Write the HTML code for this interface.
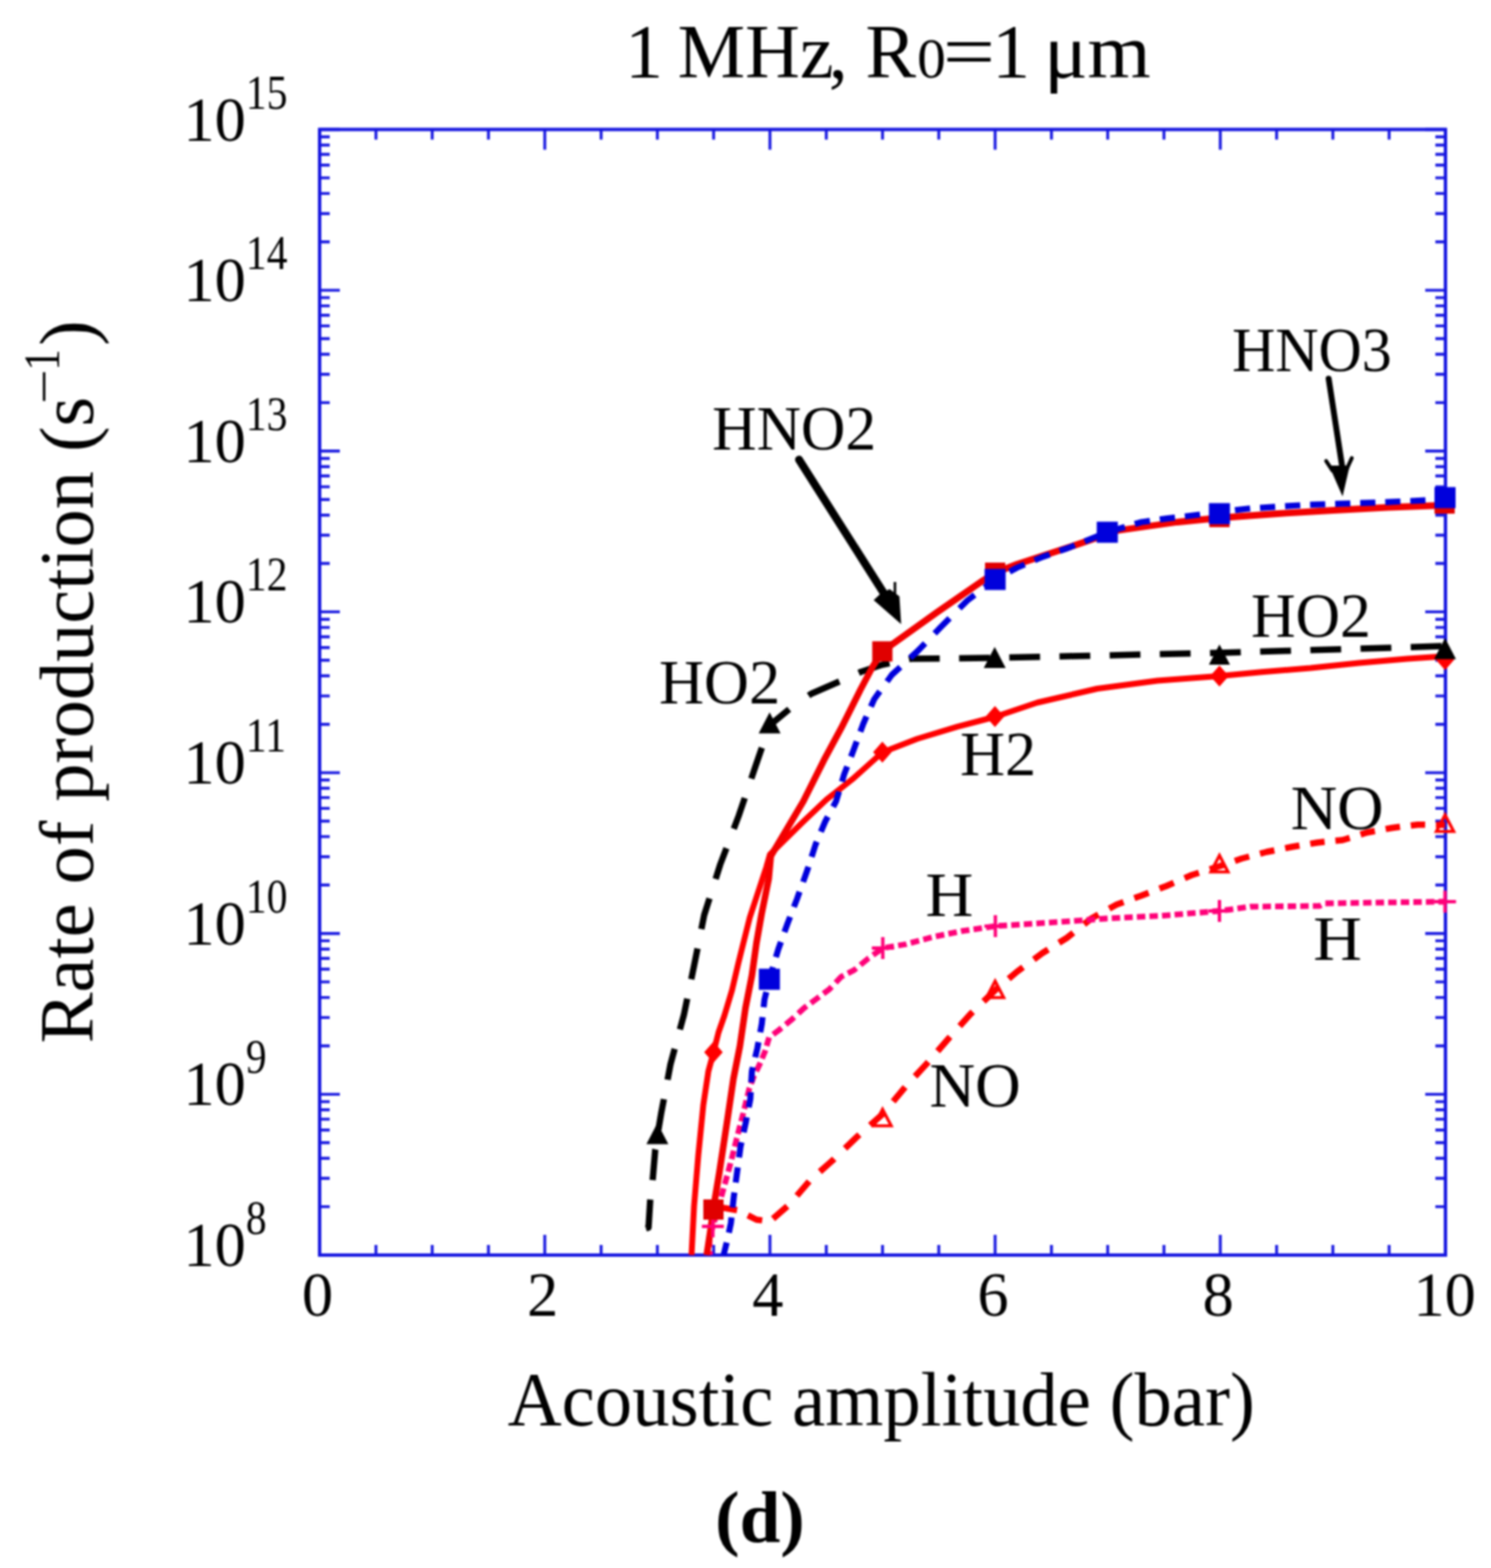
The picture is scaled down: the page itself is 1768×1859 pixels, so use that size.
<!DOCTYPE html>
<html><head><meta charset="utf-8"><title>Rate of production vs acoustic amplitude</title>
<style>html,body{margin:0;padding:0;background:#fff;}body{width:1768px;height:1859px;overflow:hidden;}svg{display:block;}#w{filter:blur(0.8px);}</style>
</head><body>
<div id="w">
<svg width="1768" height="1859" viewBox="0 0 1768 1859">
<rect x="0" y="0" width="1768" height="1859" fill="#ffffff"/>
<path d="M379.0 1488.0V1464.0M379.0 153.5V177.5M445.8 1488.0V1476.0M445.8 153.5V165.5M512.5 1488.0V1476.0M512.5 153.5V165.5M579.2 1488.0V1476.0M579.2 153.5V165.5M646.0 1488.0V1464.0M646.0 153.5V177.5M712.8 1488.0V1476.0M712.8 153.5V165.5M779.5 1488.0V1476.0M779.5 153.5V165.5M846.2 1488.0V1476.0M846.2 153.5V165.5M913.0 1488.0V1464.0M913.0 153.5V177.5M979.8 1488.0V1476.0M979.8 153.5V165.5M1046.5 1488.0V1476.0M1046.5 153.5V165.5M1113.2 1488.0V1476.0M1113.2 153.5V165.5M1180.0 1488.0V1464.0M1180.0 153.5V177.5M1246.8 1488.0V1476.0M1246.8 153.5V165.5M1313.5 1488.0V1476.0M1313.5 153.5V165.5M1380.2 1488.0V1476.0M1380.2 153.5V165.5M1447.0 1488.0V1464.0M1447.0 153.5V177.5M1513.8 1488.0V1476.0M1513.8 153.5V165.5M1580.5 1488.0V1476.0M1580.5 153.5V165.5M1647.2 1488.0V1476.0M1647.2 153.5V165.5M1714.0 1488.0V1464.0M1714.0 153.5V177.5M379.0 1488.0H403.0M1714.0 1488.0H1690.0M379.0 1430.6H391.0M1714.0 1430.6H1702.0M379.0 1397.0H391.0M1714.0 1397.0H1702.0M379.0 1373.2H391.0M1714.0 1373.2H1702.0M379.0 1354.7H391.0M1714.0 1354.7H1702.0M379.0 1339.7H391.0M1714.0 1339.7H1702.0M379.0 1326.9H391.0M1714.0 1326.9H1702.0M379.0 1315.8H391.0M1714.0 1315.8H1702.0M379.0 1306.1H391.0M1714.0 1306.1H1702.0M379.0 1297.4H403.0M1714.0 1297.4H1690.0M379.0 1240.0H391.0M1714.0 1240.0H1702.0M379.0 1206.4H391.0M1714.0 1206.4H1702.0M379.0 1182.6H391.0M1714.0 1182.6H1702.0M379.0 1164.1H391.0M1714.0 1164.1H1702.0M379.0 1149.0H391.0M1714.0 1149.0H1702.0M379.0 1136.2H391.0M1714.0 1136.2H1702.0M379.0 1125.2H391.0M1714.0 1125.2H1702.0M379.0 1115.4H391.0M1714.0 1115.4H1702.0M379.0 1106.7H403.0M1714.0 1106.7H1690.0M379.0 1049.3H391.0M1714.0 1049.3H1702.0M379.0 1015.8H391.0M1714.0 1015.8H1702.0M379.0 991.9H391.0M1714.0 991.9H1702.0M379.0 973.5H391.0M1714.0 973.5H1702.0M379.0 958.4H391.0M1714.0 958.4H1702.0M379.0 945.6H391.0M1714.0 945.6H1702.0M379.0 934.5H391.0M1714.0 934.5H1702.0M379.0 924.8H391.0M1714.0 924.8H1702.0M379.0 916.1H403.0M1714.0 916.1H1690.0M379.0 858.7H391.0M1714.0 858.7H1702.0M379.0 825.1H391.0M1714.0 825.1H1702.0M379.0 801.3H391.0M1714.0 801.3H1702.0M379.0 782.8H391.0M1714.0 782.8H1702.0M379.0 767.7H391.0M1714.0 767.7H1702.0M379.0 755.0H391.0M1714.0 755.0H1702.0M379.0 743.9H391.0M1714.0 743.9H1702.0M379.0 734.2H391.0M1714.0 734.2H1702.0M379.0 725.4H403.0M1714.0 725.4H1690.0M379.0 668.0H391.0M1714.0 668.0H1702.0M379.0 634.5H391.0M1714.0 634.5H1702.0M379.0 610.7H391.0M1714.0 610.7H1702.0M379.0 592.2H391.0M1714.0 592.2H1702.0M379.0 577.1H391.0M1714.0 577.1H1702.0M379.0 564.3H391.0M1714.0 564.3H1702.0M379.0 553.3H391.0M1714.0 553.3H1702.0M379.0 543.5H391.0M1714.0 543.5H1702.0M379.0 534.8H403.0M1714.0 534.8H1690.0M379.0 477.4H391.0M1714.0 477.4H1702.0M379.0 443.8H391.0M1714.0 443.8H1702.0M379.0 420.0H391.0M1714.0 420.0H1702.0M379.0 401.5H391.0M1714.0 401.5H1702.0M379.0 386.4H391.0M1714.0 386.4H1702.0M379.0 373.7H391.0M1714.0 373.7H1702.0M379.0 362.6H391.0M1714.0 362.6H1702.0M379.0 352.9H391.0M1714.0 352.9H1702.0M379.0 344.1H403.0M1714.0 344.1H1690.0M379.0 286.8H391.0M1714.0 286.8H1702.0M379.0 253.2H391.0M1714.0 253.2H1702.0M379.0 229.4H391.0M1714.0 229.4H1702.0M379.0 210.9H391.0M1714.0 210.9H1702.0M379.0 195.8H391.0M1714.0 195.8H1702.0M379.0 183.0H391.0M1714.0 183.0H1702.0M379.0 172.0H391.0M1714.0 172.0H1702.0M379.0 162.2H391.0M1714.0 162.2H1702.0M379.0 153.5H403.0M1714.0 153.5H1690.0" stroke="#1616e0" stroke-width="3.4" fill="none"/>
<rect x="379.0" y="153.5" width="1335.0" height="1334.5" fill="none" stroke="#1616e0" stroke-width="4"/>
<g fill="none" stroke-linejoin="round">
<path d="M857.0 1431.9 L874.0 1434.8M886.8 1440.9 L897.0 1446.0 L903.8 1446.9M916.6 1444.9 L933.6 1430.2M944.9 1417.6 L959.5 1400.6M972.2 1389.1 L987.0 1376.0 L989.2 1373.8M1002.0 1361.5 L1016.0 1348.0 L1019.0 1345.3M1031.8 1334.0 L1046.5 1321.0 L1048.4 1318.7M1059.1 1305.9 L1073.3 1288.9M1085.0 1276.1 L1099.0 1261.0 L1100.7 1259.1M1111.8 1246.3 L1125.0 1231.0 L1126.6 1229.3M1138.0 1216.5 L1151.0 1202.0 L1153.5 1199.6M1166.3 1187.2 L1180.0 1174.0 L1183.3 1171.2M1196.1 1160.4 L1206.0 1152.0 L1213.1 1146.8M1225.9 1137.4 L1236.0 1130.0 L1242.9 1125.7M1255.7 1117.8 L1265.0 1112.0 L1272.7 1105.9M1285.5 1095.7 L1294.0 1089.0 L1302.5 1084.3M1315.3 1077.3 L1324.0 1072.5 L1332.3 1069.5M1345.1 1064.8 L1353.0 1062.0 L1362.1 1058.5M1374.9 1053.6 L1383.0 1050.5 L1391.9 1046.6M1404.7 1041.1 L1413.0 1037.5 L1421.7 1034.7M1434.5 1030.6 L1446.0 1027.0 L1451.5 1025.1M1464.3 1020.7 L1472.0 1018.0 L1481.3 1015.5M1494.1 1012.1 L1502.0 1010.0 L1511.1 1008.2M1523.9 1005.6 L1532.0 1004.0 L1540.9 1002.5M1553.7 1000.4 L1562.0 999.0 L1570.7 998.1M1583.5 996.8 L1592.0 996.0 L1600.5 993.4M1613.3 989.4 L1621.0 987.0 L1630.3 985.3M1643.1 982.9 L1651.0 981.5 L1660.1 980.3M1672.9 978.7 L1681.0 977.7 L1689.9 977.8M1702.7 977.9 L1713.5 978.0" stroke="#ff0000" stroke-width="7.5" fill="none"/>
<path d="M842.0 1488.0 L841.8 1483.4M841.5 1478.5 L841.1 1468.5M842.1 1463.6 L845.3 1454.0 L845.4 1453.6M846.8 1448.7 L849.7 1438.7M851.1 1433.8 L853.9 1423.8M855.3 1418.9 L858.1 1408.9M859.4 1404.0 L862.2 1394.0M863.5 1389.1 L866.0 1380.0 L866.2 1379.1M867.5 1374.2 L870.0 1364.2M871.2 1359.3 L873.6 1350.0 L873.8 1349.3M875.0 1344.4 L877.6 1334.4M878.9 1329.5 L881.3 1320.0 L881.4 1319.5M882.6 1314.6 L885.1 1304.6M886.3 1299.7 L888.4 1291.0 L888.9 1289.7M890.6 1284.8 L894.2 1275.0 L894.3 1274.8M896.8 1269.9 L900.7 1262.0 L901.6 1259.9M903.6 1255.0 L907.0 1247.0 L907.6 1245.0M909.0 1240.1 L912.0 1230.1M916.8 1226.4 L924.0 1221.0 L926.8 1218.7M931.7 1214.6 L938.0 1209.4 L941.7 1206.0M946.6 1201.5 L953.6 1195.0 L956.6 1192.8M961.5 1189.2 L969.0 1183.6 L971.5 1181.7M976.4 1178.1 L983.3 1173.0 L986.2 1169.9M990.9 1165.0 L997.5 1158.0 L1000.5 1156.5M1005.4 1153.9 L1013.0 1150.0 L1015.4 1148.0M1020.3 1144.0 L1030.0 1136.0 L1030.3 1135.8M1035.2 1132.3 L1045.2 1125.3M1050.1 1123.5 L1060.1 1121.8M1065.0 1121.0 L1074.0 1119.5 L1075.0 1119.2M1079.9 1117.9 L1089.9 1115.3M1094.8 1114.0 L1104.8 1111.3M1109.7 1110.2 L1119.7 1108.2M1124.6 1107.2 L1134.6 1105.2M1139.5 1104.2 L1142.0 1103.7 L1149.5 1102.6M1154.4 1101.8 L1164.4 1100.3M1169.3 1099.6 L1179.3 1098.1M1184.2 1097.7 L1194.2 1097.1M1199.1 1096.8 L1209.1 1096.1M1214.0 1095.8 L1224.0 1095.1M1228.9 1094.8 L1238.9 1094.2M1243.8 1093.8 L1253.8 1093.2M1258.7 1092.9 L1266.0 1092.4 L1268.7 1092.2M1273.6 1091.8 L1283.6 1091.1M1288.5 1090.7 L1298.5 1090.0M1303.4 1089.6 L1311.5 1089.0 L1313.4 1088.9M1318.3 1088.7 L1328.3 1088.2M1333.2 1087.9 L1343.2 1087.4M1348.1 1087.2 L1358.1 1086.7M1363.0 1086.4 L1373.0 1085.9M1377.9 1085.7 L1379.0 1085.6 L1387.9 1084.9M1392.8 1084.4 L1402.8 1083.6M1407.7 1083.2 L1417.7 1082.4M1422.6 1082.0 L1432.6 1081.1M1437.5 1080.7 L1446.0 1080.0 L1447.5 1079.8M1452.4 1079.1 L1462.4 1077.8M1467.3 1077.1 L1477.3 1075.7M1482.2 1075.1 L1482.7 1075.0 L1492.2 1074.9M1497.1 1074.8 L1507.1 1074.7M1512.0 1074.6 L1522.0 1074.5M1526.9 1074.5 L1536.9 1074.3M1541.8 1074.3 L1551.8 1074.2M1556.7 1074.1 L1565.0 1074.0 L1566.7 1073.1M1571.6 1071.0 L1581.6 1070.9M1586.5 1070.8 L1596.5 1070.6M1601.4 1070.6 L1611.4 1070.4M1616.3 1070.4 L1626.3 1070.2M1631.2 1070.2 L1641.2 1070.0M1646.1 1069.9 L1656.1 1069.8M1661.0 1069.7 L1671.0 1069.6M1675.9 1069.5 L1685.9 1069.4M1690.8 1069.3 L1700.8 1069.2M1705.7 1069.1 L1713.5 1069.0" stroke="#ff0078" stroke-width="6.8" fill="none"/>
<path d="M765.9 1456.5 L769.0 1455.5 L771.0 1423.0 L771.1 1422.1M773.9 1399.1 L774.0 1398.0 L777.0 1363.0 L777.1 1362.6M780.7 1339.6 L784.0 1320.0 L787.2 1303.1M791.6 1280.1 L795.0 1262.0 L800.0 1243.6M806.2 1220.6 L811.0 1203.0 L814.9 1184.1M819.7 1161.1 L823.0 1145.0 L827.1 1124.6M831.7 1101.6 L835.0 1085.0 L841.3 1065.1M848.6 1042.1 L854.0 1025.0 L861.4 1005.6M870.1 982.6 L876.0 967.0 L883.1 946.1M890.9 923.1 L896.0 908.0 L903.4 886.6M911.4 863.6 L912.6 860.0" stroke="#000000" stroke-width="7.5" fill="none"/>
<path d="M912.6 860.0 L935.8 840.8M958.8 824.7 L962.0 822.5 L993.0 809.0 L995.3 808.0M1018.3 797.7 L1021.0 796.5 L1046.5 788.0 L1054.8 786.3M1077.8 781.5 L1080.0 781.0 L1114.3 780.7M1137.3 780.4 L1173.8 780.1M1196.8 779.6 L1233.3 778.8M1256.3 778.3 L1292.8 777.4M1315.8 776.9 L1352.3 776.1M1375.3 775.6 L1411.8 774.8M1434.8 774.3 L1446.0 774.0 L1471.3 773.2M1494.3 772.6 L1530.8 771.5M1553.8 770.8 L1590.3 769.7M1613.3 769.0 L1649.8 767.9M1672.8 767.2 L1709.3 766.1" stroke="#000000" stroke-width="7.5" fill="none"/>
<path d="M820.0 1488.0 L823.0 1430.0 L828.0 1370.0 L834.0 1310.0 L840.0 1270.0 L846.0 1248.0 L852.0 1224.0 L859.0 1204.0 L868.0 1174.0 L875.5 1142.0 L889.0 1088.0 L908.7 1028.0 L913.0 1013.0 L952.6 974.0 L980.0 948.0 L1012.4 922.4 L1046.3 892.0 L1087.5 876.0 L1135.0 861.7 L1179.5 850.0 L1230.0 833.0 L1301.0 816.5 L1372.5 807.0 L1446.0 801.5 L1496.0 796.7 L1554.0 792.0 L1611.5 786.0 L1669.0 781.0 L1713.5 778.0" stroke="#ff0000" stroke-width="7"/>
<path d="M838.0 1488.0 L843.0 1455.0 L846.0 1432.0 L853.0 1390.0 L862.0 1331.0 L869.7 1279.0 L877.4 1240.0 L884.0 1195.0 L891.6 1156.5 L897.0 1118.0 L903.0 1084.0 L911.5 1042.0 L914.0 1015.0 L952.6 950.0 L976.9 901.4 L997.8 862.7 L1020.4 817.5 L1035.0 790.0 L1046.3 772.3 L1111.0 726.0 L1166.0 688.0 L1180.0 679.0 L1206.0 669.0 L1277.5 645.5 L1325.0 629.0 L1396.0 619.0 L1446.0 614.0 L1515.0 609.0 L1581.0 605.0 L1646.0 601.5 L1713.0 599.0" stroke="#f20000" stroke-width="7.8"/>
<path d="M858.0 1488.0 L861.7 1473.1M864.3 1461.4 L866.7 1450.0 L867.4 1443.4M868.7 1431.7 L870.0 1420.0 L870.8 1413.7M872.4 1402.0 L874.0 1390.0 L874.8 1384.0M876.4 1372.3 L878.0 1360.0 L879.2 1354.3M881.8 1342.6 L884.5 1330.0 L885.5 1324.6M887.8 1312.9 L889.7 1303.0 L890.2 1294.9M890.8 1283.2 L891.6 1270.0 L892.7 1265.2M895.5 1253.5 L898.0 1243.0 L899.4 1235.5M901.5 1223.8 L903.3 1214.0 L904.2 1205.8M905.5 1194.1 L906.5 1185.0 L908.7 1176.1M911.5 1164.4 L912.3 1161.0 L916.6 1146.4M920.1 1134.7 L922.7 1126.0 L926.0 1116.7M930.2 1105.0 L933.8 1095.0 L936.9 1087.0M941.4 1075.3 L945.0 1066.0 L948.1 1057.3M952.3 1045.6 L957.5 1031.0 L958.6 1027.6M962.4 1015.9 L967.0 1001.5 L968.5 997.9M973.4 986.2 L978.5 974.0 L981.6 968.2M987.9 956.5 L991.4 950.0 L994.9 938.5M998.4 926.8 L1001.0 918.0 L1004.6 908.8M1009.1 897.1 L1012.4 888.5 L1015.9 879.1M1020.2 867.4 L1023.7 858.0 L1027.5 849.4M1032.7 837.7 L1036.6 829.0 L1043.3 819.7M1051.8 808.0 L1057.6 800.0 L1067.6 790.8M1079.3 780.0 L1088.0 772.0 L1097.0 762.7M1108.3 751.0 L1116.0 743.0 L1126.0 733.0M1137.7 721.3 L1147.0 712.0 L1155.7 705.4M1167.4 696.5 L1180.0 687.0 L1185.4 684.1M1197.1 677.8 L1206.0 673.0 L1215.1 669.2M1226.8 664.3 L1237.0 660.0 L1244.8 657.3M1256.5 653.2 L1265.7 650.0 L1274.5 646.5M1286.2 641.8 L1304.2 634.5M1315.9 630.1 L1333.9 624.8M1345.6 621.3 L1353.5 619.0 L1363.6 617.6M1375.3 615.9 L1384.4 614.6 L1393.3 613.6M1405.0 612.2 L1415.0 611.0 L1423.0 610.0M1434.7 608.5 L1446.0 607.0 L1452.7 606.2M1464.4 604.8 L1480.0 603.0 L1482.4 602.8M1494.1 602.1 L1512.1 600.9M1523.8 600.2 L1541.8 599.0M1553.5 598.4 L1571.5 597.8M1583.2 597.4 L1601.2 596.8M1612.9 596.4 L1630.9 595.8M1642.6 595.4 L1660.6 594.5M1672.3 594.0 L1690.3 593.1M1702.0 592.5 L1713.5 592.0" stroke="#0000dc" stroke-width="7.2" fill="none"/>
</g>
<polygon points="1046.5,1315.2 1056.8,1334.8 1036.2,1334.8" fill="none" stroke="#ff0000" stroke-width="3.6"/>
<polygon points="1180.0,1163.2 1190.2,1182.8 1169.8,1182.8" fill="none" stroke="#ff0000" stroke-width="3.6"/>
<polygon points="1446.0,1014.2 1456.2,1033.8 1435.8,1033.8" fill="none" stroke="#ff0000" stroke-width="3.6"/>
<polygon points="1713.5,966.2 1723.8,985.8 1703.2,985.8" fill="none" stroke="#ff0000" stroke-width="3.6"/>
<path d="M832.3 1454.0H858.3M845.3 1441.0V1467.0" stroke="#ff0078" stroke-width="4" fill="none"/>
<path d="M1033.8 1124.0H1059.8M1046.8 1111.0V1137.0" stroke="#ff0078" stroke-width="4" fill="none"/>
<path d="M1167.3 1098.0H1193.3M1180.3 1085.0V1111.0" stroke="#ff0078" stroke-width="4" fill="none"/>
<path d="M1433.0 1080.0H1459.0M1446.0 1067.0V1093.0" stroke="#ff0078" stroke-width="4" fill="none"/>
<path d="M1700.5 1069.0H1726.5M1713.5 1056.0V1082.0" stroke="#ff0078" stroke-width="4" fill="none"/>
<polygon points="1446.0,764.0 1458.5,788.0 1433.5,788.0" fill="#000000"/>
<polygon points="846.0,1235.1 857.0,1247.6 846.0,1260.1 835.0,1247.6" fill="#ff0000"/>
<polygon points="1046.3,879.2 1057.3,891.7 1046.3,904.2 1035.3,891.7" fill="#ff0000"/>
<polygon points="1179.8,837.0 1190.8,849.5 1179.8,862.0 1168.8,849.5" fill="#ff0000"/>
<polygon points="1446.0,789.0 1457.0,801.5 1446.0,814.0 1435.0,801.5" fill="#ff0000"/>
<polygon points="1713.5,769.5 1724.5,782.0 1713.5,794.5 1702.5,782.0" fill="#ff0000"/>
<polygon points="779.5,1331.5 792.5,1356.5 766.5,1356.5" fill="#000000"/>
<polygon points="912.6,844.5 925.6,869.5 899.6,869.5" fill="#000000"/>
<polygon points="1179.5,767.0 1192.5,792.0 1166.5,792.0" fill="#000000"/>
<polygon points="1713.5,756.5 1726.5,781.5 1700.5,781.5" fill="#000000"/>
<rect x="834.0" y="1422.0" width="24" height="24" fill="#e00000"/>
<rect x="1034.3" y="760.3" width="24" height="24" fill="#e00000"/>
<rect x="1168.0" y="667.0" width="24" height="24" fill="#e00000"/>
<rect x="1434.0" y="601.0" width="24" height="24" fill="#e00000"/>
<rect x="1701.0" y="585.0" width="24" height="24" fill="#e00000"/>
<rect x="899.8" y="1148.5" width="25" height="25" fill="#0000dc"/>
<rect x="1167.5" y="674.5" width="25" height="25" fill="#0000dc"/>
<rect x="1300.5" y="618.5" width="25" height="25" fill="#0000dc"/>
<rect x="1433.5" y="596.5" width="25" height="25" fill="#0000dc"/>
<rect x="1701.0" y="577.5" width="25" height="25" fill="#0000dc"/>
<path d="M947.5 545 L1051 708" stroke="#000" stroke-width="9.5" stroke-linecap="round" fill="none"/>
<polygon points="1036,711.5 1068.6,740 1066.5,707 1055,698.5 1045,703" fill="#000"/>
<path d="M1061.2 707 V690" stroke="#000" stroke-width="3" fill="none"/>
<path d="M1575.5 449 L1591.5 553" stroke="#000" stroke-width="7" stroke-linecap="round" fill="none"/>
<polygon points="1576,552 1600.5,552 1592,588.5" fill="#000"/>
<path d="M1580 558 L1572.5 546.5 M1596.5 557 L1603 543" stroke="#000" stroke-width="4.5" stroke-linecap="round" fill="none"/>
<g fill="#000">
<text y="92.2" font-size="90" font-family="Liberation Serif, Times New Roman, serif"><tspan x="741.3">1 </tspan><tspan x="803.5">MHz</tspan><tspan x="982.8">, </tspan><tspan x="1026.2">R</tspan><tspan x="1087.5" font-size="68">0</tspan><tspan x="1117.9" textLength="62" lengthAdjust="spacingAndGlyphs">=</tspan><tspan x="1176.5">1 </tspan><tspan x="1237.9" textLength="126.7" lengthAdjust="spacingAndGlyphs">μm</tspan></text>
<text x="217.5" y="166.5" font-size="74" font-family="Liberation Serif, Times New Roman, serif">10</text>
<text x="0" y="0" font-size="56" font-family="Liberation Serif, Times New Roman, serif" transform="translate(291.6 128.5) scale(0.88 1)">15</text>
<text x="217.5" y="357.1" font-size="74" font-family="Liberation Serif, Times New Roman, serif">10</text>
<text x="0" y="0" font-size="56" font-family="Liberation Serif, Times New Roman, serif" transform="translate(291.6 319.1) scale(0.88 1)">14</text>
<text x="217.5" y="547.8" font-size="74" font-family="Liberation Serif, Times New Roman, serif">10</text>
<text x="0" y="0" font-size="56" font-family="Liberation Serif, Times New Roman, serif" transform="translate(291.6 509.8) scale(0.88 1)">13</text>
<text x="217.5" y="738.4" font-size="74" font-family="Liberation Serif, Times New Roman, serif">10</text>
<text x="0" y="0" font-size="56" font-family="Liberation Serif, Times New Roman, serif" transform="translate(291.6 700.4) scale(0.88 1)">12</text>
<text x="217.5" y="929.1" font-size="74" font-family="Liberation Serif, Times New Roman, serif">10</text>
<text x="0" y="0" font-size="56" font-family="Liberation Serif, Times New Roman, serif" transform="translate(291.6 891.1) scale(0.88 1)">11</text>
<text x="217.5" y="1119.7" font-size="74" font-family="Liberation Serif, Times New Roman, serif">10</text>
<text x="0" y="0" font-size="56" font-family="Liberation Serif, Times New Roman, serif" transform="translate(291.6 1081.7) scale(0.88 1)">10</text>
<text x="217.5" y="1310.4" font-size="74" font-family="Liberation Serif, Times New Roman, serif">10</text>
<text x="0" y="0" font-size="56" font-family="Liberation Serif, Times New Roman, serif" transform="translate(291.6 1272.4) scale(0.88 1)">9</text>
<text x="217.5" y="1501.0" font-size="74" font-family="Liberation Serif, Times New Roman, serif">10</text>
<text x="0" y="0" font-size="56" font-family="Liberation Serif, Times New Roman, serif" transform="translate(291.6 1463.0) scale(0.88 1)">8</text>
<text x="376.5" y="1559.5" font-size="74" text-anchor="middle" font-family="Liberation Serif, Times New Roman, serif">0</text>
<text x="643.5" y="1559.5" font-size="74" text-anchor="middle" font-family="Liberation Serif, Times New Roman, serif">2</text>
<text x="910.5" y="1559.5" font-size="74" text-anchor="middle" font-family="Liberation Serif, Times New Roman, serif">4</text>
<text x="1177.5" y="1559.5" font-size="74" text-anchor="middle" font-family="Liberation Serif, Times New Roman, serif">6</text>
<text x="1444.5" y="1559.5" font-size="74" text-anchor="middle" font-family="Liberation Serif, Times New Roman, serif">8</text>
<text x="1713.0" y="1559.5" font-size="74" text-anchor="middle" font-family="Liberation Serif, Times New Roman, serif">10</text>
<text x="0" y="0" font-size="90.5" font-family="Liberation Serif, Times New Roman, serif" transform="translate(109.7 1237) rotate(-90)">Rate of production (s<tspan x="758" y="-37.9" font-size="60" textLength="41.28" lengthAdjust="spacingAndGlyphs">−</tspan><tspan x="797.5" y="-40.2" font-size="61" textLength="25.62" lengthAdjust="spacingAndGlyphs">1</tspan><tspan x="827" y="0">)</tspan></text>
<text x="602" y="1689.8" font-size="90" textLength="886" lengthAdjust="spacingAndGlyphs" font-family="Liberation Serif, Times New Roman, serif">Acoustic amplitude (bar)</text>
<text x="848" y="1828" font-size="87" font-weight="bold" font-family="Liberation Serif, Times New Roman, serif">(d)</text>
<text x="0" y="0" font-size="73" font-family="Liberation Serif, Times New Roman, serif" transform="translate(1460.9 440.4) scale(0.973 1)">HNO3</text>
<text x="0" y="0" font-size="73" font-family="Liberation Serif, Times New Roman, serif" transform="translate(844.5 533.3) scale(0.999 1)">HNO2</text>
<text x="0" y="0" font-size="73" font-family="Liberation Serif, Times New Roman, serif" transform="translate(781.5 834.2) scale(1.012 1)">HO2</text>
<text x="0" y="0" font-size="73" font-family="Liberation Serif, Times New Roman, serif" transform="translate(1483.4 755.4) scale(1.001 1)">HO2</text>
<text x="0" y="0" font-size="73" font-family="Liberation Serif, Times New Roman, serif" transform="translate(1138.5 919.2) scale(1.010 1)">H2</text>
<text x="0" y="0" font-size="73" font-family="Liberation Serif, Times New Roman, serif" transform="translate(1530.4 982.5) scale(1.046 1)">NO</text>
<text x="0" y="0" font-size="73" font-family="Liberation Serif, Times New Roman, serif" transform="translate(1102.3 1311.9) scale(1.025 1)">NO</text>
<text x="0" y="0" font-size="73" font-family="Liberation Serif, Times New Roman, serif" transform="translate(1097.6 1085.6) scale(1.075 1)">H</text>
<text x="0" y="0" font-size="73" font-family="Liberation Serif, Times New Roman, serif" transform="translate(1557.2 1138.3) scale(1.094 1)">H</text>
</g>
</svg>
</div>
</body></html>
